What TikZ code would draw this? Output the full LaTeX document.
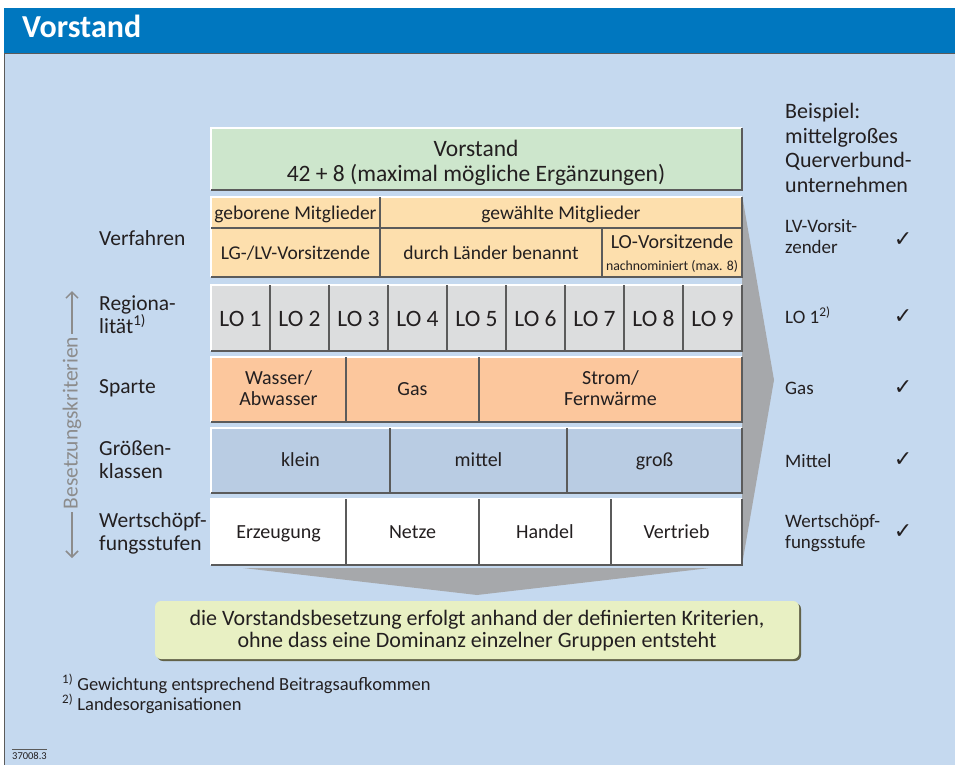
\documentclass[tikz,border=0pt]{standalone}
\usepackage{fontspec}
\setmainfont{Carlito}[Numbers=Lining]
\newfontfamily\symfont{DejaVu Sans}
\usetikzlibrary{arrows.meta}
\definecolor{bg}{HTML}{C5D9EF}
\definecolor{titleblue}{HTML}{0077BF}
\definecolor{boxgreen}{HTML}{CDE6CC}
\definecolor{peach}{HTML}{FDDFAD}
\definecolor{logray}{HTML}{DCDDDE}
\definecolor{orange}{HTML}{FCC79D}
\definecolor{sizeblue}{HTML}{B9CCE3}
\definecolor{bottomgreen}{HTML}{E8F0C3}
\definecolor{chev}{HTML}{A6A8AB}
\definecolor{edge}{HTML}{5B5B5B}
\definecolor{txt}{HTML}{231F20}
\definecolor{arrowgray}{HTML}{8C8C8C}
\newcommand\panelrow[5]{%
  \fill[#1] (#2,#3) rectangle (#4,#5);
  \draw[hiedge] (#2,#5) -- (#2,#3) -- (#4,#3);
  \draw[loedge] (#2,#5) -- (#4,#5) -- (#4,#3);
}
\begin{document}
\begin{tikzpicture}[x=1pt,y=-1pt,
  hiedge/.style={white,line width=1.2pt},
  loedge/.style={edge,line width=2pt},
  divider/.style={edge,line width=1.5pt},
  cell/.style={anchor=base,font=\fontsize{20}{20}\selectfont,align=center,text=txt,inner sep=0pt},
  lab/.style={anchor=base west,align=left,font=\fontsize{21.5}{23}\selectfont,text=txt,inner sep=0pt},
  item/.style={anchor=base west,align=left,font=\fontsize{19}{20.5}\selectfont,text=txt,inner sep=0pt},
  check/.style={font=\symfont\fontsize{22}{22}\selectfont,text=txt,inner sep=0pt},
  garrow/.style={arrowgray,line width=1.5pt,-{Straight Barb[length=6pt,width=12pt]}}
]
\useasboundingbox (0,0) rectangle (955,765);
\fill[white] (0,0) rectangle (955,765);
\fill[bg] (4,53) rectangle (955,765);
\draw[edge,line width=1pt] (4.5,765) -- (4.5,53.5) -- (955,53.5);
\fill[titleblue] (4,8) rectangle (955,53);
\node[anchor=base west,inner sep=0pt,text=white,font=\bfseries\fontsize{32}{34}\selectfont] (title) at (22,38) {Vorstand};

% chevrons
\fill[chev] (742,195) -- (774,380) -- (742,565) -- cycle;
\fill[chev] (243,568) -- (710,568) -- (477,595) -- cycle;

% Vorstand box
\panelrow{boxgreen}{211}{128}{742}{190}
\node[cell,font=\fontsize{23.5}{25}\selectfont] (vorstand) at (476,181) {Vorstand\\42 + 8 (maximal mögliche Ergänzungen)};

% Verfahren
\panelrow{peach}{211}{197}{742}{277}
\draw[divider] (211,228) -- (742,228);
\draw[divider] (380,197) -- (380,277);
\draw[divider] (602,228) -- (602,277);
\node[cell,font=\fontsize{19.5}{20}\selectfont] (geb) at (295.5,219) {geborene Mitglieder};
\node[cell,font=\fontsize{19.5}{20}\selectfont] (gew) at (561,219) {gewählte Mitglieder};
\node[cell,font=\fontsize{19.5}{20}\selectfont] (lglv) at (295.5,259) {LG-/LV-Vorsitzende};
\node[cell,font=\fontsize{19.5}{20}\selectfont] (laender) at (491,259) {durch Länder benannt};
\node[cell,font=\fontsize{20}{22}\selectfont] (lovors) at (672,270) {LO-Vorsitzende\\{\fontsize{13.8}{22}\selectfont nachnominiert (max. 8)}};

% LO row
\panelrow{logray}{211}{285}{742}{351}
\foreach \i in {1,...,8} {\draw[divider] ({211+59*\i},285) -- ({211+59*\i},351);}
\foreach \i in {1,...,9} {\node[cell,font=\fontsize{23.5}{23}\selectfont] (lo\i) at ({211+59*(\i-0.5)},326) {LO \i};}

% Sparte
\panelrow{orange}{211}{357}{742}{422}
\draw[divider] (346,357) -- (346,422);
\draw[divider] (479,357) -- (479,422);
\node[cell,font=\fontsize{20}{20.5}\selectfont] (wasser) at (278.5,405) {Wasser/\\Abwasser};
\node[cell] (gas) at (412.5,395) {Gas};
\node[cell,font=\fontsize{20}{20.5}\selectfont] (strom) at (610.5,405) {Strom/\\Fernwärme};

% Groessenklassen
\panelrow{sizeblue}{211}{428}{742}{493}
\draw[divider] (390,428) -- (390,493);
\draw[divider] (567,428) -- (567,493);
\node[cell] (klein) at (300.5,466) {klein};
\node[cell] (mittel) at (478.5,466) {mittel};
\node[cell] (gross) at (654.5,466) {groß};

% Wertschoepfung
\panelrow{white}{211}{499}{742}{565}
\draw[divider] (346,499) -- (346,565);
\draw[divider] (479,499) -- (479,565);
\draw[divider] (611,499) -- (611,565);
\node[cell] (erz) at (278.5,538) {Erzeugung};
\node[cell] (netze) at (412.5,538) {Netze};
\node[cell] (handel) at (545,538) {Handel};
\node[cell] (vertrieb) at (676.5,538) {Vertrieb};

% left labels
\node[lab] (lverf) at (99,245) {Verfahren};
\node[lab] (lreg) at (99,333) {Regiona-\\lität\textsuperscript{1)}};
\node[lab] (lsparte) at (99,393) {Sparte};
\node[lab] (lgroesse) at (99,478) {Größen-\\klassen};
\node[lab] (lwert) at (99,550) {Wertschöpf-\\fungsstufen};

% vertical arrow
\coordinate (atop) at (72,291);
\coordinate (abot) at (72,558);
\node[rotate=90,text=arrowgray,font=\fontsize{21.5}{22}\selectfont,inner sep=3pt] (bk) at (72,423) {Besetzungskriterien};
\draw[garrow] (bk.east) -- (atop);
\draw[garrow] (bk.west) -- (abot);

% right column
\node[anchor=base west,align=left,inner sep=0pt,text=txt,font=\fontsize{22}{24.5}\selectfont] (beispiel) at (785,192) {Beispiel:\\mittelgroßes\\Querverbund-\\unternehmen};
\node[item] (rlv) at (785,253) {LV-Vorsit-\\zender};
\node[item] (rlo) at (785,323) {LO 1\textsuperscript{2)}};
\node[item] (rgas) at (785,394) {Gas};
\node[item] (rmittel) at (785,467) {Mittel};
\node[item] (rwert) at (785,548) {Wertschöpf-\\fungsstufe};
\node[check] (c1) at (903,240) {✓};
\node[check] (c2) at (903,317) {✓};
\node[check] (c3) at (903,388) {✓};
\node[check] (c4) at (903,460) {✓};
\node[check] (c5) at (903,532) {✓};

% bottom box
\fill[edge!80!olive, rounded corners=6pt] (157,603) rectangle (801,661);
\fill[bottomgreen, rounded corners=6pt] (155,601) rectangle (799,659);
\node[cell,font=\fontsize{22}{22}\selectfont] (concl) at (477,647) {die Vorstandsbesetzung erfolgt anhand der definierten Kriterien,\\ohne dass eine Dominanz einzelner Gruppen entsteht};

% footnotes
\node[anchor=base west,inner sep=0pt,text=txt,font=\fontsize{18.5}{20}\selectfont] (fn1) at (62,690) {\textsuperscript{1)} Gewichtung entsprechend Beitragsaufkommen};
\node[anchor=base west,inner sep=0pt,text=txt,font=\fontsize{18.5}{20}\selectfont] (fn2) at (62,710) {\textsuperscript{2)} Landesorganisationen};

\node[anchor=base west,inner sep=0pt,text=txt,font=\fontsize{10.5}{12}\selectfont] (code) at (12,759) {37008.3};
\draw[edge,line width=0.8pt] (code.north west) ++(0,-2) -- ++(35,0);
\end{tikzpicture}
\end{document}
